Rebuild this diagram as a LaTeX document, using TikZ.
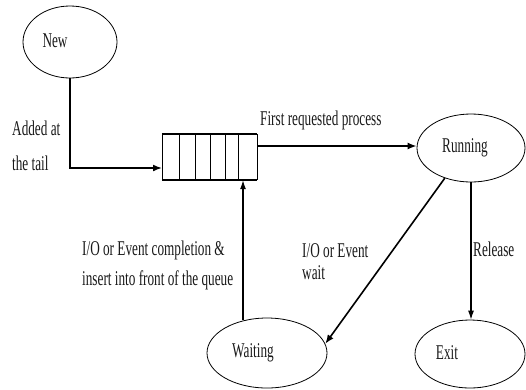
\documentclass[tikz,border=0pt]{standalone}
\usepackage{fontspec}
\setmainfont[FakeStretch=0.63]{Liberation Serif}
\usetikzlibrary{shapes.geometric,arrows.meta}
\begin{document}
\begin{tikzpicture}[x=1pt,y=-1pt,
  st/.style={draw, ellipse, inner sep=0pt, line width=0.8pt},
  lbl/.style={inner sep=0pt, text=black!90, font=\fontsize{21}{22}\selectfont},
  arr/.style={-{Latex[length=9pt,width=7pt]}, line width=1.6pt},
  tarr/.style={-{Latex[length=9pt,width=6pt]}, line width=1.1pt}]
\useasboundingbox (0,0) rectangle (526,389);

% states
\node[st, minimum width=94pt, minimum height=72pt,
  label={[lbl, xshift=-15pt, yshift=1pt]center:New}] (new) at (70,42) {};
\node[st, minimum width=108pt, minimum height=68pt,
  label={[lbl, xshift=-6pt]center:Running}] (running) at (471,148) {};
\node[st, minimum width=120pt, minimum height=70pt,
  label={[lbl, xshift=-14pt]center:Waiting}] (waiting) at (267,353) {};
\node[st, minimum width=110pt, minimum height=68pt,
  label={[lbl, xshift=-23pt, yshift=1pt]center:Exit}] (exit) at (470,354) {};

% queue
\node[inner sep=0pt, minimum width=95pt, minimum height=46pt] (queue) at (209.5,157) {};
\draw[line width=1.6pt] (queue.north west) -- (queue.north east);
\draw[line width=1.6pt] (queue.south west) -- (queue.south east);
\foreach \xx in {162,179,195,210,225,238,257}
  \draw[line width=0.9pt] (\xx,134) -- (\xx,180);

% helper coordinates
\coordinate (qin) at (162,168);
\coordinate (qout) at (257,146);
\coordinate (wup) at (243,320);

% connectors
\draw[arr] (new.south) |- (qin);
\draw[arr] (qout) -- (qout -| running.west);
\draw[tarr] (wup) -- (wup |- queue.south);
\draw[arr] (running.229) -- (waiting.9);
\draw[tarr] (running.south) -- (running.south |- exit.north);

% labels
\node[lbl, align=left, anchor=north west, font=\fontsize{21}{35}\selectfont] (addlbl) at (12,121) {Added at\\the tail};
\node[lbl, anchor=base west] (firstlbl) at (260,125) {First requested process};
\node[lbl, align=left, anchor=north west, font=\fontsize{21}{30}\selectfont] (iolbl) at (82,241) {I/O or Event completion \&\\insert into front of the queue};
\node[lbl, align=left, anchor=north west, font=\fontsize{21}{22}\selectfont] (waitlbl) at (302,243) {I/O or Event\\wait};
\node[lbl, anchor=base west] (rellbl) at (473,256) {Release};
\end{tikzpicture}
\end{document}
